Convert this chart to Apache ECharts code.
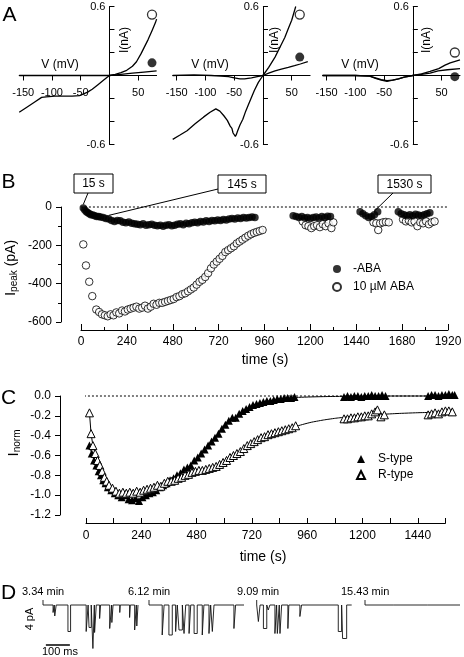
<!DOCTYPE html>
<html><head><meta charset="utf-8">
<script src="https://cdn.jsdelivr.net/npm/echarts@6/dist/echarts.min.js"></script>
<style>html,body{margin:0;padding:0;background:#fff}#c{width:464px;height:657px}</style>
</head><body><div id="c"></div>
<script>
const FONT = "'Liberation Sans', Arial, Helvetica, sans-serif";

// ---------- Panel A : I-V curves (V in mV, I in nA) ----------
const aVoltMin = -157, aVoltMax = 82;
const aVoltTicks = [-150, -100, -50, 0, 50];
const aVoltLabels = [-150, -100, -50, 50];
const aCurTicks = [-0.6, -0.4, -0.2, 0.2, 0.4, 0.6];
const aCurLabels = [-0.6, 0.6];
const a1Open = [[-157,-0.32],[-145,-0.28],[-130,-0.23],[-118,-0.19],[-110,-0.185],[-95,-0.18],[-80,-0.18],[-65,-0.18],[-52,-0.175],[-45,-0.16],[-38,-0.145],[-30,-0.12],[-20,-0.08],[-10,-0.04],[0,0],[10,0.01],[20,0.025],[30,0.045],[40,0.08],[47,0.12],[55,0.19],[60,0.24],[67,0.31],[74,0.39],[80,0.46],[82,0.49]];
const a1Filled = [[-157,0],[-100,0],[-50,0],[0,0],[20,0.01],[40,0.02],[60,0.03],[82,0.04]];
const a2Open = [[-157,-0.555],[-145,-0.52],[-132,-0.48],[-118,-0.42],[-103,-0.36],[-92,-0.32],[-82,-0.29],[-75,-0.31],[-68,-0.35],[-62,-0.39],[-57,-0.44],[-54,-0.46],[-52,-0.5],[-50,-0.49],[-48,-0.53],[-46,-0.51],[-44,-0.48],[-40,-0.43],[-35,-0.38],[-30,-0.31],[-25,-0.25],[-15,-0.13],[-8,-0.06],[0,0],[10,0.07],[21,0.16],[30,0.25],[38,0.33],[45,0.42],[50,0.48],[57,0.6]];
const a2Filled = [[-157,0],[-120,0.005],[-90,0],[-73,-0.005],[-60,-0.01],[-50,-0.02],[-40,-0.03],[-32,-0.03],[-20,-0.02],[-10,-0.01],[0,0],[10,0.02],[21,0.04],[32,0.055],[44,0.07],[55,0.085],[65,0.1],[78,0.12]];
const a3Open = [[-157,0],[-100,0],[-75,-0.005],[-65,-0.02],[-55,-0.035],[-45,-0.045],[-35,-0.04],[-25,-0.03],[-15,-0.015],[0,0],[15,0.015],[30,0.035],[45,0.06],[56,0.09],[65,0.11],[75,0.125],[82,0.135]];
const a3Filled = [[-157,0],[-100,0],[-75,-0.005],[-65,-0.025],[-55,-0.04],[-45,-0.05],[-35,-0.04],[-25,-0.03],[-15,-0.015],[0,0],[15,0.01],[30,0.02],[44,0.04],[60,0.05],[82,0.06]];
const aMarkerOpen = [[74,0.53],[64,0.53],[73,0.2]];
const aMarkerFilled = [[74,0.11],[64,0.16],[73,-0.01]];

// ---------- Panel B : peak current vs time ----------
const bNoABA1 = [[12,-5],[20,-15],[28,-25],[36,-30],[44,-35],[52,-40],[62,-42],[72,-45],[82,-50],[92,-50],[102,-52],[116,-55],[130,-60],[145,-62],[160,-70],[175,-75],[190,-70],[205,-72],[220,-80],[235,-82],[250,-78],[265,-85],[280,-88],[295,-90],[310,-92],[325,-88],[340,-95],[355,-92],[370,-90],[385,-95],[400,-98],[415,-95],[430,-100],[445,-95],[460,-92],[475,-98],[490,-95],[505,-90],[520,-88],[535,-92],[550,-85],[565,-88],[580,-82],[595,-80],[610,-82],[625,-75],[640,-78],[655,-72],[670,-75],[685,-70],[700,-72],[715,-68],[730,-70],[745,-65],[760,-68],[775,-62],[790,-60],[805,-62],[820,-58],[835,-60],[850,-55],[865,-58],[880,-55],[895,-52],[910,-55]];
const bNoABA2 = [[1110,-45],[1125,-50],[1140,-55],[1155,-50],[1170,-58],[1185,-55],[1200,-60],[1215,-55],[1230,-52],[1245,-58],[1260,-50],[1275,-55],[1290,-48],[1305,-50]];
const bNoABA3 = [[1460,-25],[1475,-35],[1490,-45],[1505,-55],[1520,-50],[1535,-40],[1552,-25]];
const bNoABA4 = [[1660,-25],[1675,-35],[1690,-40],[1705,-45],[1720,-40],[1735,-45],[1750,-38],[1765,-42],[1780,-45],[1795,-40],[1810,-35],[1825,-30]];
const bABA1 = [[12,-195],[26,-305],[43,-390],[59,-465],[80,-535],[95,-548],[110,-560],[125,-565],[140,-570],[155,-560],[170,-565],[185,-550],[200,-555],[215,-540],[230,-545],[245,-535],[260,-530],[275,-525],[290,-520],[305,-530],[320,-525],[335,-515],[350,-530],[365,-520],[380,-505],[395,-510],[410,-500],[425,-500],[440,-495],[455,-490],[470,-485],[485,-480],[500,-470],[515,-465],[530,-455],[545,-450],[560,-440],[575,-430],[590,-420],[605,-405],[620,-390],[635,-380],[650,-365],[665,-345],[680,-320],[695,-300],[710,-285],[725,-270],[740,-255],[755,-235],[770,-225],[785,-215],[800,-205],[815,-190],[830,-180],[845,-170],[860,-160],[875,-150],[890,-142],[905,-135],[920,-130],[935,-125],[950,-120]];
const bABA2 = [[1160,-75],[1175,-95],[1190,-100],[1205,-110],[1220,-100],[1235,-95],[1250,-105],[1265,-90],[1280,-100],[1295,-85],[1310,-110],[1320,-80]];
const bABA3 = [[1530,-80],[1545,-85],[1555,-120],[1565,-85],[1580,-80],[1595,-78],[1610,-80]];
const bABA4 = [[1685,-65],[1700,-75],[1715,-70],[1730,-80],[1745,-75],[1760,-100],[1775,-80],[1790,-85],[1805,-75],[1820,-90],[1835,-80],[1850,-75]];
const bZeroLine = [[-105,0],[1916,0]];
const bCalloutTimes = [12, 145, 1535];
const bCalloutText = ['15 s', '145 s', '1530 s'];

// ---------- Panel C : normalized current vs time ----------
const cTimeTicks = [0,120,240,360,480,600,720,840,960,1080,1200,1320,1440,1560];
const cTimeLabels = [0,240,480,720,960,1200,1440];
const cS1 = [[15,-0.5],[25,-0.58],[35,-0.65],[45,-0.7],[55,-0.76],[65,-0.8],[75,-0.85],[85,-0.88],[95,-0.92],[110,-0.95],[125,-0.98],[140,-1.0],[155,-1.02],[170,-1.0],[185,-1.04],[200,-1.05],[215,-1.03],[230,-1.06],[245,-1.02],[260,-1.0],[275,-0.98],[290,-0.97],[305,-0.95],[320,-0.92],[335,-0.9],[350,-0.88],[365,-0.85],[380,-0.83],[395,-0.8],[410,-0.78],[425,-0.74],[440,-0.72],[455,-0.7],[470,-0.65],[485,-0.62],[500,-0.58],[515,-0.54],[530,-0.5],[545,-0.46],[560,-0.42],[575,-0.38],[590,-0.33],[605,-0.29],[620,-0.25],[635,-0.22],[650,-0.22],[665,-0.18],[680,-0.15],[695,-0.13],[710,-0.11],[725,-0.09],[740,-0.08],[755,-0.07],[770,-0.06],[785,-0.05],[800,-0.05],[815,-0.04],[830,-0.03],[845,-0.03],[860,-0.02],[875,-0.02],[890,-0.02],[905,-0.01]];
const cS2 = [[1120,-0.01],[1135,0],[1150,-0.01],[1165,0],[1180,0],[1195,-0.01],[1210,0],[1225,0],[1240,0.01],[1255,0],[1270,0],[1285,0.01],[1300,0]];
const cS3 = [[1485,0],[1500,0.01],[1515,0.01],[1530,0],[1545,0.01],[1560,0.01],[1575,0.02],[1590,0.01],[1600,0.01]];
const cR1 = [[15,-0.17],[22,-0.38],[30,-0.5],[40,-0.58],[50,-0.65],[60,-0.7],[70,-0.76],[80,-0.82],[90,-0.86],[100,-0.9],[115,-0.93],[130,-0.96],[145,-0.98],[160,-0.97],[175,-0.98],[190,-0.97],[205,-0.98],[220,-0.96],[235,-0.97],[250,-0.95],[265,-0.94],[280,-0.93],[295,-0.92],[310,-0.9],[325,-0.91],[340,-0.88],[355,-0.86],[370,-0.86],[385,-0.85],[400,-0.83],[415,-0.82],[430,-0.8],[445,-0.79],[460,-0.77],[475,-0.76],[490,-0.75],[505,-0.75],[520,-0.74],[535,-0.73],[550,-0.72],[565,-0.71],[580,-0.69],[595,-0.67],[610,-0.65],[625,-0.62],[640,-0.6],[655,-0.58],[670,-0.56],[685,-0.53],[700,-0.5],[715,-0.48],[730,-0.46],[745,-0.44],[760,-0.42],[775,-0.41],[790,-0.39],[805,-0.38],[820,-0.37],[835,-0.36],[850,-0.35],[865,-0.34],[880,-0.33],[895,-0.32],[910,-0.3]];
const cR2 = [[1120,-0.23],[1135,-0.23],[1150,-0.22],[1165,-0.22],[1180,-0.21],[1195,-0.21],[1210,-0.2],[1225,-0.2],[1240,-0.18],[1255,-0.16],[1265,-0.14],[1280,-0.21],[1295,-0.19]];
const cR3 = [[1485,-0.19],[1500,-0.18],[1515,-0.17],[1530,-0.18],[1545,-0.16],[1560,-0.15],[1575,-0.15],[1590,-0.16]];
const cSFit = [[905,-0.015],[1000,-0.008],[1100,-0.004],[1200,-0.002],[1400,0],[1600,0]];
const cRFit = [[907,-0.31],[960,-0.275],[1000,-0.255],[1060,-0.232],[1120,-0.215],[1200,-0.198],[1300,-0.183],[1400,-0.172],[1500,-0.165],[1600,-0.16]];
const cZeroLine = [[-113,0],[1636,0]];

// ---------- Panel D : single-channel traces ([start ms, end ms, amplitude pA]) ----------
const dDuration = 396;
const dLabels = ['3.34 min', '6.12 min', '9.09 min', '15.43 min'];
const dTrace1 = [[42,47,1.5],[49,55,2.2],[104,115,5.3],[180,188,5.3],[192,201,4.5],[208,214,8.7],[215,222,5.5],[236,240,2.7],[278,286,4.7],[287,292,3.5],[320,322,1.5],[361,364,2.5],[382,389,5.0],[391,396,4.2]];
const dTrace2 = [[55,63,6],[83,97,6],[111,118,5.3],[125,139,5],[146,153,5.7],[167,174,5.7],[188,201,5.7],[222,229,6],[250,257,5.7],[264,271,5.3],[354,361,4.7]];
const dTrace3 = [[7,14,3.3],[28,42,4.7],[48,55,1],[76,83,5.7],[86,94,5.7],[97,104,5.7],[130,134,4.7],[180,187,2.3],[340,354,5.3],[358,375,6.7]];
const dTrace4 = [[120,122,0.3],[260,262,0.3]];
const dStartTick = 1;
const dScaleV = [[-17,-0.8],[-17,-4.8]];   // 4 pA
const dScaleH = [[12,-8],[112,-8]];        // 100 ms

function buildTrace(openings) {
  const pts = [[0, dStartTick], [0, 0]];
  openings.forEach(([s, e, a]) => { pts.push([s, 0], [s, -a], [e, -a], [e, 0]); });
  pts.push([dDuration, 0]);
  return pts;
}
function joinClusters(list) {
  const out = [];
  list.forEach((c, i) => { if (i) out.push('-'); c.forEach(p => out.push(p)); });
  return out;
}

const black = '#000';
const lineAx = { show: true, lineStyle: { color: black, width: 1 } };
const txt = { color: black, fontFamily: FONT };
const plain = v => String(v);

const aGridW = 137.4, aGridH = 138;
const grids = [
  { left: 19.2, top: 6.5, width: aGridW, height: aGridH },
  { left: 172.7, top: 6.5, width: aGridW, height: aGridH },
  { left: 322.6, top: 6.5, width: aGridW, height: aGridH },
  { left: 81, top: 207, width: 367, height: 115 },
  { left: 86, top: 396, width: 359.4, height: 119 },
  { left: 43, top: 595, width: 95, height: 55 },
  { left: 149, top: 595, width: 95, height: 55 },
  { left: 256.7, top: 595, width: 95, height: 55 },
  { left: 365, top: 595, width: 95, height: 55 }
].map(g => Object.assign({ outerBoundsMode: 'none', containLabel: false }, g));

// axes of panel A cross at (0,0): shift them inward from the grid edges
const aXOffset = -aGridH / 2;
const aYOffset = -aGridW * (0 - aVoltMin) / (aVoltMax - aVoltMin);

const xAxes = [], yAxes = [];
for (let i = 0; i < 3; i++) {
  xAxes.push({ gridIndex: i, type: 'value', min: aVoltMin, max: aVoltMax, position: 'bottom', offset: aXOffset,
    axisLine: { show: true, onZero: false, lineStyle: { color: black, width: 1 } },
    axisTick: { show: true, customValues: aVoltTicks, length: 5, lineStyle: { color: black } },
    axisLabel: Object.assign({ show: true, customValues: aVoltLabels, margin: 12, fontSize: 11, formatter: plain }, txt),
    splitLine: { show: false } });
  yAxes.push({ gridIndex: i, type: 'value', min: -0.6, max: 0.6, position: 'left', offset: aYOffset,
    axisLine: { show: true, onZero: false, lineStyle: { color: black, width: 1 } },
    axisTick: { show: true, inside: true, customValues: aCurTicks, length: 5, lineStyle: { color: black } },
    axisLabel: Object.assign({ show: true, customValues: aCurLabels, margin: 4, fontSize: 11, formatter: v => v.toFixed(1) }, txt),
    splitLine: { show: false } });
}
// B
xAxes.push({ gridIndex: 3, type: 'value', min: 0, max: 1920, interval: 240, offset: 8,
  axisLine: Object.assign({ onZero: false }, lineAx),
  axisTick: { show: true, inside: true, length: 6, lineStyle: { color: black } },
  minorTick: { show: true, splitNumber: 2, length: 3, lineStyle: { color: black } },
  axisLabel: Object.assign({ margin: 6, fontSize: 12, formatter: plain }, txt), splitLine: { show: false } });
yAxes.push({ gridIndex: 3, type: 'value', min: -600, max: 0, interval: 200, offset: 20,
  axisLine: Object.assign({ onZero: false }, lineAx),
  axisTick: { show: true, length: 5, lineStyle: { color: black } },
  minorTick: { show: true, splitNumber: 2, length: 3, lineStyle: { color: black } },
  axisLabel: Object.assign({ margin: 9, fontSize: 12, formatter: plain }, txt), splitLine: { show: false } });
// C
xAxes.push({ gridIndex: 4, type: 'value', min: 0, max: 1560, offset: 8,
  axisLine: Object.assign({ onZero: false }, lineAx),
  axisTick: { show: true, inside: true, length: 5, customValues: cTimeTicks, lineStyle: { color: black } },
  axisLabel: Object.assign({ margin: 7, fontSize: 12, customValues: cTimeLabels, formatter: plain }, txt), splitLine: { show: false } });
yAxes.push({ gridIndex: 4, type: 'value', min: -1.2, max: 0, interval: 0.2, offset: 26,
  axisLine: Object.assign({ onZero: false }, lineAx),
  axisTick: { show: true, length: 5, lineStyle: { color: black } },
  axisLabel: Object.assign({ margin: 9, fontSize: 12, formatter: v => v.toFixed(1) }, txt), splitLine: { show: false } });
// D
for (let i = 5; i < 9; i++) {
  xAxes.push({ gridIndex: i, type: 'value', min: 0, max: dDuration, show: false });
  yAxes.push({ gridIndex: i, type: 'value', min: -9, max: 2, show: false });
}

const series = [];
const aOpen = [a1Open, a2Open, a3Open], aFilled = [a1Filled, a2Filled, a3Filled];
for (let i = 0; i < 3; i++) {
  series.push({ type: 'line', xAxisIndex: i, yAxisIndex: i, data: aFilled[i], symbol: 'none', lineStyle: { color: black, width: 1.3 }, silent: true });
  series.push({ type: 'line', xAxisIndex: i, yAxisIndex: i, data: aOpen[i], symbol: 'none', lineStyle: { color: black, width: 1.3 }, silent: true });
  series.push({ type: 'scatter', xAxisIndex: i, yAxisIndex: i, data: [aMarkerOpen[i]], symbol: 'circle', symbolSize: 9, itemStyle: { color: '#fff', borderColor: black, borderWidth: 1.3 } });
  series.push({ type: 'scatter', xAxisIndex: i, yAxisIndex: i, data: [aMarkerFilled[i]], symbol: 'circle', symbolSize: 9, itemStyle: { color: black } });
}
// B
series.push({ type: 'line', xAxisIndex: 3, yAxisIndex: 3, data: bZeroLine, symbol: 'none', clip: false, lineStyle: { color: black, width: 1, type: [2, 2] }, silent: true });
series.push({ name: '10 µM ABA', type: 'scatter', xAxisIndex: 3, yAxisIndex: 3, data: [].concat(bABA1, bABA2, bABA3, bABA4), symbol: 'circle', symbolSize: 7.5, itemStyle: { color: '#fff', borderColor: black, borderWidth: 1 } });
series.push({ name: '-ABA', type: 'scatter', xAxisIndex: 3, yAxisIndex: 3, data: [].concat(bNoABA1, bNoABA2, bNoABA3, bNoABA4), symbol: 'circle', symbolSize: 7.5, itemStyle: { color: black } });
// C
series.push({ type: 'line', xAxisIndex: 4, yAxisIndex: 4, data: cZeroLine, symbol: 'none', clip: false, lineStyle: { color: black, width: 1, type: [2, 2] }, silent: true });
series.push({ type: 'line', xAxisIndex: 4, yAxisIndex: 4, data: cSFit, symbol: 'none', smooth: true, clip: false, lineStyle: { color: black, width: 1 }, silent: true });
series.push({ type: 'line', xAxisIndex: 4, yAxisIndex: 4, data: cRFit, symbol: 'none', smooth: true, clip: false, lineStyle: { color: black, width: 1 }, silent: true });
series.push({ name: 'S-type', type: 'line', xAxisIndex: 4, yAxisIndex: 4, data: joinClusters([cS1, cS2, cS3]), clip: false, symbol: 'triangle', symbolSize: 8, lineStyle: { color: black, width: 1 }, itemStyle: { color: black } });
series.push({ name: 'R-type', type: 'line', xAxisIndex: 4, yAxisIndex: 4, data: joinClusters([cR1, cR2, cR3]), clip: false, symbol: 'triangle', symbolSize: 8, lineStyle: { color: black, width: 1 }, itemStyle: { color: '#fff', borderColor: black, borderWidth: 1 } });
// D
const dTraces = [dTrace1, dTrace2, dTrace3, dTrace4];
dTraces.forEach((t, i) => {
  series.push({ type: 'line', xAxisIndex: 5 + i, yAxisIndex: 5 + i, data: buildTrace(t), symbol: 'none', lineStyle: { color: '#111', width: 0.9 }, silent: true, clip: false });
});
series.push({ type: 'line', xAxisIndex: 5, yAxisIndex: 5, data: dScaleV, symbol: 'none', clip: false, lineStyle: { color: black, width: 1.5 }, silent: true });
series.push({ type: 'line', xAxisIndex: 5, yAxisIndex: 5, data: dScaleH, symbol: 'none', clip: false, lineStyle: { color: black, width: 1.5 }, silent: true });

function legendCfg(left, top, gap, pad, items, icon) {
  return { left: left, top: top, orient: 'vertical', itemWidth: 8, itemHeight: 8, itemGap: gap, selectedMode: false, padding: 0,
    data: items.map(n => ({ name: n, icon: icon })),
    formatter: n => '{t|' + n + '}',
    textStyle: { fontSize: 12, color: black, fontFamily: FONT, rich: { t: { fontSize: 12, color: black, fontFamily: FONT, padding: [0, 0, 0, pad] } } } };
}
const option = {
  animation: false,
  backgroundColor: '#fff',
  grid: grids, xAxis: xAxes, yAxis: yAxes, series: series,
  legend: [
    legendCfg(332, 263, 6, 7, ['-ABA', '10 µM ABA'], 'circle'),
    legendCfg(356, 453, 4, 8, ['S-type', 'R-type'], 'triangle')
  ]
};

const chart = echarts.init(document.getElementById('c'), null, { width: 464, height: 657 });
chart.setOption(option);

function T(text, x, y, size, extra) {
  return Object.assign({ type: 'text', x: x, y: y, silent: true,
    style: Object.assign({ text: text, fontSize: size, fontFamily: FONT, fill: black, align: 'center', verticalAlign: 'middle' }, (extra && extra.style) || {}) },
    extra && extra.rotation !== undefined ? { rotation: extra.rotation } : {});
}
const g = [];
g.push(T('A', 9.5, 15, 21), T('B', 8.5, 182, 21), T('C', 8.5, 398.5, 21), T('D', 8.5, 593, 21));
[[60, 125], [210, 275], [360, 427]].forEach(([vx, ix]) => {
  g.push(T('V (mV)', vx, 65, 12));
  g.push(T('I(nA)', ix, 40, 12, { rotation: Math.PI / 2 }));
});
g.push(T('time (s)', 265, 360, 14));
g.push({ type: 'text', x: 11, y: 268, rotation: Math.PI / 2, silent: true,
  style: { text: '{i|I}{s|peak}{n| (pA)}', align: 'center', verticalAlign: 'middle', fill: black, fontFamily: FONT,
    rich: { i: { fontSize: 15, fontFamily: FONT }, s: { fontSize: 10, fontFamily: FONT, padding: [7, 0, 0, 0] }, n: { fontSize: 14, fontFamily: FONT } } } });
g.push(T('time (s)', 263, 557, 14));
g.push({ type: 'text', x: 14, y: 443, rotation: Math.PI / 2, silent: true,
  style: { text: '{i|I}{s|norm}', align: 'center', verticalAlign: 'middle', fill: black, fontFamily: FONT,
    rich: { i: { fontSize: 15, fontFamily: FONT }, s: { fontSize: 10, fontFamily: FONT, padding: [7, 0, 0, 0] } } } });
[[22, 0], [128, 1], [237, 2], [341, 3]].forEach(([x, i]) => g.push(T(dLabels[i], x, 591.5, 11, { style: { align: 'left' } })));
g.push(T('4 pA', 30, 619, 11, { rotation: Math.PI / 2 }));
g.push(T('100 ms', 60, 652, 11));
const boxes = [{ x: 74, y: 174, w: 39, h: 19, from: [88, 193] }, { x: 218, y: 175, w: 48, h: 18, from: [218, 189] }, { x: 378, y: 175, w: 53, h: 18, from: [393, 193] }];
const allNoABA = [].concat(bNoABA1, bNoABA2, bNoABA3, bNoABA4);
boxes.forEach((b, i) => {
  g.push({ type: 'rect', shape: { x: b.x, y: b.y, width: b.w, height: b.h }, style: { fill: '#fff', stroke: black, lineWidth: 1 }, silent: true });
  g.push(T(bCalloutText[i], b.x + b.w / 2, b.y + b.h / 2 + 0.5, 12));
  let best = allNoABA[0];
  allNoABA.forEach(p => { if (Math.abs(p[0] - bCalloutTimes[i]) < Math.abs(best[0] - bCalloutTimes[i])) best = p; });
  const px = chart.convertToPixel({ gridIndex: 3 }, best);
  g.push({ type: 'line', shape: { x1: b.from[0], y1: b.from[1], x2: px[0], y2: px[1] - 3.5 }, style: { stroke: black, lineWidth: 1 }, silent: true });
});
chart.setOption({ graphic: g });
</script></body></html>
